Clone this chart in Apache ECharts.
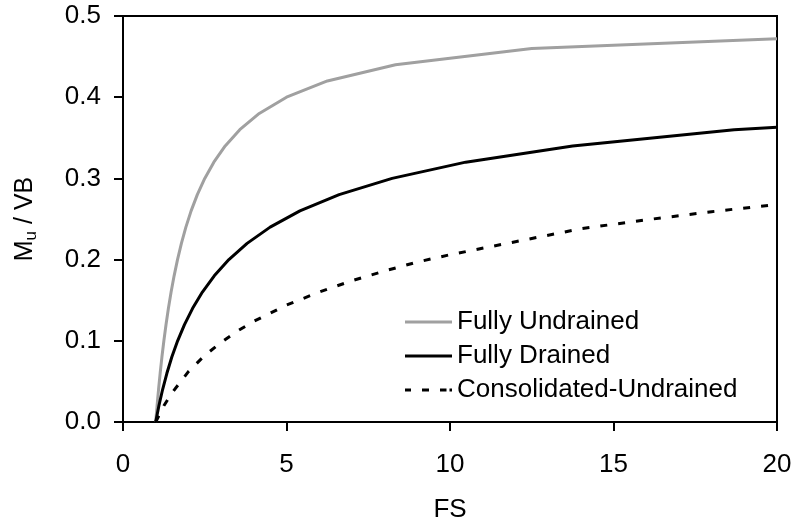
<!DOCTYPE html>
<html>
<head>
<meta charset="utf-8">
<script src="https://cdn.jsdelivr.net/npm/echarts@6/dist/echarts.min.js"></script>
<style>html,body{margin:0;padding:0;background:#fff}#c{width:795px;height:527px}</style>
</head>
<body>
<div id="c"></div>
<script>
// Fully Undrained
var fsUndrained = [1, 1.042, 1.087, 1.136, 1.19, 1.25, 1.316, 1.389, 1.471, 1.563, 1.667, 1.786, 1.923, 2.083, 2.273, 2.5, 2.778, 3.125, 3.571, 4.167, 5, 6.25, 8.333, 12.5, 20];
var muUndrained = [0, 0.02, 0.04, 0.06, 0.08, 0.10, 0.12, 0.14, 0.16, 0.18, 0.20, 0.22, 0.24, 0.26, 0.28, 0.30, 0.32, 0.34, 0.36, 0.38, 0.40, 0.42, 0.44, 0.46, 0.472];
// Fully Drained
var fsDrained = [1, 1.098, 1.211, 1.342, 1.493, 1.671, 1.88, 2.129, 2.428, 2.791, 3.238, 3.795, 4.5, 5.41, 6.61, 8.23, 10.48, 13.75, 18.69, 20];
var muDrained = [0, 0.02, 0.04, 0.06, 0.08, 0.10, 0.12, 0.14, 0.16, 0.18, 0.20, 0.22, 0.24, 0.26, 0.28, 0.30, 0.32, 0.34, 0.36, 0.363];
// Consolidated-Undrained
var fsCU = [1, 1.25, 1.5, 2, 2.5, 3, 3.5, 4, 5, 6, 7, 8, 9, 10, 12, 14, 16, 18, 20];
var muCU = [0, 0.020, 0.036, 0.062, 0.082, 0.098, 0.112, 0.124, 0.144, 0.160, 0.174, 0.186, 0.197, 0.206, 0.222, 0.238, 0.249, 0.259, 0.268];

var xTicks = [0, 5, 10, 15, 20];
var yTicks = [0, 0.1, 0.2, 0.3, 0.4, 0.5];
var seriesNames = ['Fully Undrained', 'Fully Drained', 'Consolidated-Undrained'];

function zip(a, b) { return a.map(function (v, i) { return [v, b[i]]; }); }

var FONT = 'Liberation Sans, Arial, sans-serif';
var solidIcon = 'path://M0,0H47V3H0Z';
var dashIcon = 'path://M0,0H6V3H0Z M17,0H24V3H17Z M35,0H41.5V3H35Z M44.5,0H47V3H44.5Z';

var chart = echarts.init(document.getElementById('c'), null, {renderer: 'canvas'});
chart.setOption({
  animation: false,
  backgroundColor: '#fff',
  grid: {left: 123, top: 16, right: 18, bottom: 105, containLabel: false, outerBoundsMode: 'none',
         show: true, borderColor: '#000', borderWidth: 2, backgroundColor: 'transparent'},
  legend: {
    orient: 'vertical', left: 400, top: 304, itemWidth: 47, itemHeight: 3, itemGap: 8,
    symbolKeepAspect: false,
    textStyle: {fontFamily: FONT, fontSize: 26, color: '#000'},
    data: [
      {name: seriesNames[0], icon: solidIcon, itemStyle: {color: '#a0a0a0'}},
      {name: seriesNames[1], icon: solidIcon, itemStyle: {color: '#000'}},
      {name: seriesNames[2], icon: dashIcon, itemStyle: {color: '#000'}}
    ]
  },
  xAxis: {
    type: 'value', min: xTicks[0], max: xTicks[xTicks.length - 1], interval: 5,
    name: 'FS', nameLocation: 'middle', nameGap: 75,
    nameTextStyle: {fontFamily: FONT, fontSize: 26, color: '#000'},
    axisLine: {show: true, onZero: false, lineStyle: {color: '#000', width: 2}},
    axisTick: {show: true, inside: false, length: 9, lineStyle: {color: '#000', width: 2}},
    axisLabel: {fontFamily: FONT, fontSize: 26, color: '#000', margin: 30},
    splitLine: {show: false}
  },
  yAxis: {
    type: 'value', min: yTicks[0], max: yTicks[yTicks.length - 1], interval: 0.1,
    name: '{a|M}{b|u}{a| / VB}', nameLocation: 'middle', nameGap: 83, nameRotate: 90,
    nameTextStyle: {
      fontFamily: FONT, fontSize: 25, color: '#000',
      rich: {
        a: {fontFamily: FONT, fontSize: 25, color: '#000', lineHeight: 30},
        b: {fontFamily: FONT, fontSize: 17, color: '#000', lineHeight: 17, verticalAlign: 'bottom'}
      }
    },
    axisLine: {show: true, onZero: false, lineStyle: {color: '#000', width: 2}},
    axisTick: {show: true, inside: false, length: 9, lineStyle: {color: '#000', width: 2}},
    axisLabel: {fontFamily: FONT, fontSize: 26, color: '#000', margin: 22, formatter: function (v) { return v.toFixed(1); }},
    splitLine: {show: false}
  },
  series: [
    {name: seriesNames[0], type: 'line', data: zip(fsUndrained, muUndrained), showSymbol: false, symbol: 'none',
     lineStyle: {color: '#a0a0a0', width: 3}, itemStyle: {color: '#a0a0a0'}},
    {name: seriesNames[1], type: 'line', data: zip(fsDrained, muDrained), showSymbol: false, symbol: 'none',
     lineStyle: {color: '#000', width: 3}, itemStyle: {color: '#000'}},
    {name: seriesNames[2], type: 'line', data: zip(fsCU, muCU), showSymbol: false, symbol: 'none',
     lineStyle: {color: '#000', width: 3, type: [7, 11]}, itemStyle: {color: '#000'}}
  ]
});
</script>
</body>
</html>
